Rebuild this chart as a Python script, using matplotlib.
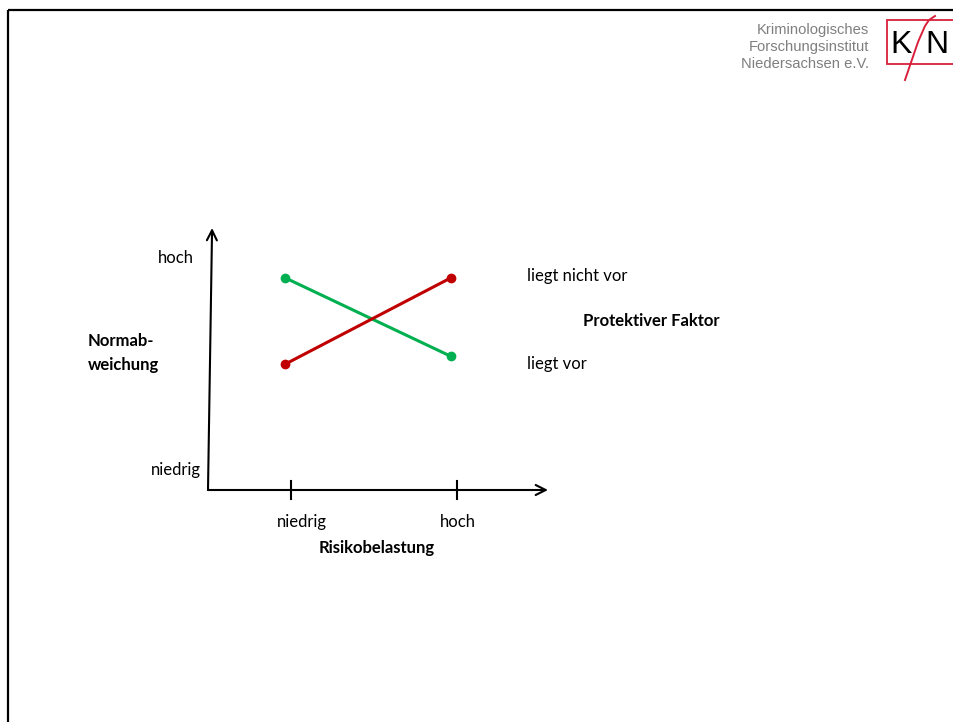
import matplotlib
matplotlib.use("Agg")
import matplotlib.pyplot as plt
from matplotlib.patches import Rectangle

plt.rcParams['font.family'] = ['Lato', 'DejaVu Sans']

# data: Normabweichung (0 = niedrig, 10 = hoch) against Risikobelastung
risk_levels = [0, 1]                      # niedrig, hoch
risk_labels = ['niedrig', 'hoch']
deviation_labels = ['niedrig', 'hoch']
protective_yes = [8.1, 5.1]               # green: "liegt vor" ends low
protective_no = [4.8, 8.1]                # red: "liegt nicht vor" ends high

W, H = 954, 722
fig = plt.figure(figsize=(W / 100, H / 100), dpi=100)


def fx(px):
    return px / W


def fy(py):
    return 1 - py / H


# full-figure layer in pixel coords for slide frame and logo
deco = fig.add_axes([0, 0, 1, 1])
deco.set_xlim(0, W)
deco.set_ylim(H, 0)
deco.axis('off')
deco.plot([8, W], [10, 10], color='black', lw=1.6, solid_capstyle='butt')
deco.plot([8, 8], [10, H], color='black', lw=1.6, solid_capstyle='butt')

# KFN logo
red_logo = '#d8203a'
deco.add_patch(Rectangle((887, 20), 67, 44, fill=False, ec=red_logo, lw=1.3))
deco.text(901, 45, 'K', fontsize=23, ha='center', va='center',
          family='Liberation Sans', color='black')
deco.text(937, 45, 'N', fontsize=23, ha='center', va='center',
          family='Liberation Sans', color='black')
deco.plot([905, 918, 925, 929, 935], [80, 42, 26, 20, 16], color=red_logo, lw=1.4)

for i, line in enumerate(['Kriminologisches', 'Forschungsinstitut', 'Niedersachsen e.V.']):
    fig.text(fx(869), fy(30 + i * 17), line, ha='right', va='center',
             fontsize=10.6, family='Liberation Sans', color='#7f7f7f')

# chart axes: x px 208..548, y px 490..228
ax = fig.add_axes([fx(208), fy(490), fx(548) - fx(208), fy(228) - fy(490)])
ax.patch.set_alpha(0)
x0 = (208 - 285) / 166
x1 = (548 - 285) / 166
ax.set_xlim(x0, x1)
ax.set_ylim(0, 10)
for s in ax.spines.values():
    s.set_visible(False)
ax.set_xticks([])
ax.set_yticks([])

ax.plot(risk_levels, protective_yes, color='#00b050', lw=2.2, marker='o', ms=6)
ax.plot(risk_levels, protective_no, color='#c00000', lw=2.2, marker='o', ms=6)

# axis arrows
arrow = dict(arrowstyle='->', color='black', lw=1.5, mutation_scale=18, shrinkA=0, shrinkB=0)
ax.annotate('', xy=(1, 0), xytext=(0, 0), xycoords='axes fraction', arrowprops=arrow)
ax.annotate('', xy=(0.012, 1), xytext=(0, 0), xycoords='axes fraction', arrowprops=arrow)

# tick marks on x axis
for r in risk_levels:
    ax.plot([r + 0.036, r + 0.036], [-0.35, 0.35], color='black', lw=1.5, clip_on=False)

fs = 12
fig.text(fx(302), fy(522), risk_labels[0], ha='center', va='center', fontsize=fs)
fig.text(fx(458), fy(522), risk_labels[1], ha='center', va='center', fontsize=fs)
fig.text(fx(377), fy(548), 'Risikobelastung', ha='center', va='center', fontsize=fs, weight='bold')

fig.text(fx(194), fy(258), deviation_labels[1], ha='right', va='center', fontsize=fs)
fig.text(fx(201), fy(470), deviation_labels[0], ha='right', va='center', fontsize=fs)
fig.text(fx(88), fy(341), 'Normab-', ha='left', va='center', fontsize=fs, weight='bold')
fig.text(fx(88), fy(365), 'weichung', ha='left', va='center', fontsize=fs, weight='bold')

fig.text(fx(527), fy(276), 'liegt nicht vor', ha='left', va='center', fontsize=fs)
fig.text(fx(583), fy(321), 'Protektiver Faktor', ha='left', va='center', fontsize=fs, weight='bold')
fig.text(fx(527), fy(364), 'liegt vor', ha='left', va='center', fontsize=fs)

fig.savefig('out.png', dpi=100)
